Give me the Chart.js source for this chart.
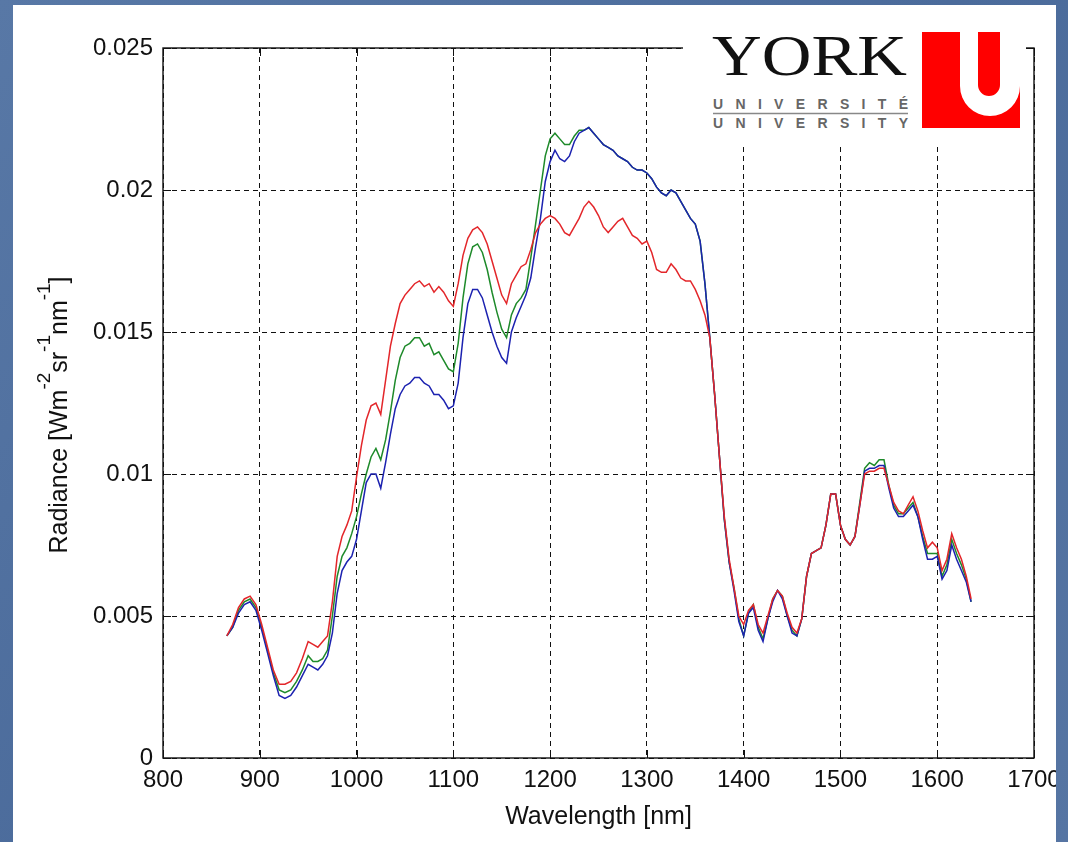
<!DOCTYPE html>
<html>
<head>
<meta charset="utf-8">
<script src="https://cdn.jsdelivr.net/npm/chart.js@4.4.1/dist/chart.umd.min.js"></script>
<style>
  html, body { margin: 0; padding: 0; }
  body {
    width: 1068px; height: 842px; overflow: hidden; position: relative;
    background: linear-gradient(135deg, #5878a6 0%, #4b6b9b 50%, #5675a3 100%);
  }
  #panel {
    position: absolute; left: 13px; top: 5px; width: 1043px; height: 837px;
    background: #fff; overflow: hidden;
  }
  #chart { position: absolute; left: 0; top: 0; }
  #logo { position: absolute; left: 683px; top: 5px; }
</style>
</head>
<body>
<div id="panel"><canvas id="chart" width="1110" height="837"></canvas></div>
<svg id="logo" width="343" height="141" xmlns="http://www.w3.org/2000/svg">
  <rect x="0" y="0" width="343" height="141" fill="#fff"/>
  <text x="29" y="70" font-family="Liberation Serif" font-size="56" fill="#111"
        textLength="195" lengthAdjust="spacingAndGlyphs">YORK</text>
  <text x="30" y="104" font-family="Liberation Sans" font-size="14" font-weight="bold" fill="#666"
        textLength="195" lengthAdjust="spacing">UNIVERSITÉ</text>
  <line x1="30" y1="108.5" x2="225" y2="108.5" stroke="#888" stroke-width="1.5"/>
  <text x="30" y="123" font-family="Liberation Sans" font-size="14" font-weight="bold" fill="#666"
        textLength="195" lengthAdjust="spacing">UNIVERSITY</text>
  <rect x="239" y="27" width="98" height="96" fill="#ff0000"/>
  <path d="M277,27 V81 A30,30 0 0 0 337,81 V27 H317 V80 A11,11 0 0 1 295,80 V27 Z" fill="#fff"/>
</svg>
<script>
// DATA
const wavelengths = [
  866, 872, 878, 884, 890, 896, 902, 908, 914, 920, 926, 932, 938, 944, 950, 955, 960, 965, 970, 975,
  980, 985, 990, 995, 1000, 1005, 1010, 1015, 1020, 1025, 1030, 1035, 1040, 1045, 1050, 1055, 1060, 1065, 1070, 1075,
  1080, 1085, 1090, 1095, 1100, 1105, 1110, 1115, 1120, 1125, 1130, 1135, 1140, 1145, 1150, 1155, 1160, 1165, 1170, 1175,
  1180, 1185, 1190, 1195, 1200, 1205, 1210, 1215, 1220, 1225, 1230, 1235, 1240, 1245, 1250, 1255, 1260, 1265, 1270, 1275,
  1280, 1285, 1290, 1295, 1300, 1305, 1310, 1315, 1320, 1325, 1330, 1335, 1340, 1345, 1350, 1355, 1360, 1365, 1370, 1375,
  1380, 1385, 1390, 1395, 1400, 1405, 1410, 1415, 1420, 1425, 1430, 1435, 1440, 1445, 1450, 1455, 1460, 1465, 1470, 1475,
  1480, 1485, 1490, 1495, 1500, 1505, 1510, 1515, 1520, 1525, 1530, 1535, 1540, 1545, 1550, 1555, 1560, 1565, 1570, 1575,
  1580, 1585, 1590, 1595, 1600, 1605, 1610, 1615, 1620, 1625, 1630, 1635
];

const radianceRed = [
  0.0043, 0.0047, 0.0053, 0.0056, 0.0057, 0.0054, 0.0047, 0.0039, 0.0031, 0.0026, 0.0026, 0.0027, 0.0030, 0.0035, 0.0041, 0.0040, 0.0039, 0.0041, 0.0043, 0.0055,
  0.0071, 0.0078, 0.0082, 0.0087, 0.0099, 0.0110, 0.0119, 0.0124, 0.0125, 0.0121, 0.0133, 0.0145, 0.0153, 0.0160, 0.0163, 0.0165, 0.0167, 0.0168, 0.0166, 0.0167,
  0.0164, 0.0166, 0.0164, 0.0161, 0.0159, 0.0167, 0.0177, 0.0183, 0.0186, 0.0187, 0.0185, 0.0181, 0.0175, 0.0169, 0.0163, 0.0160, 0.0167, 0.0170, 0.0173, 0.0174,
  0.0179, 0.0185, 0.0188, 0.0190, 0.0191, 0.0190, 0.0188, 0.0185, 0.0184, 0.0187, 0.0190, 0.0194, 0.0196, 0.0194, 0.0191, 0.0187, 0.0185, 0.0187, 0.0189, 0.0190,
  0.0187, 0.0184, 0.0183, 0.0181, 0.0182, 0.0178, 0.0172, 0.0171, 0.0171, 0.0174, 0.0172, 0.0169, 0.0168, 0.0168, 0.0165, 0.0161, 0.0156, 0.0148, 0.0128, 0.0106,
  0.0085, 0.0070, 0.0060, 0.0050, 0.0047, 0.0052, 0.0054, 0.0047, 0.0044, 0.0050, 0.0056, 0.0059, 0.0057, 0.0051, 0.0046, 0.0044, 0.0049, 0.0064, 0.0072, 0.0073,
  0.0074, 0.0082, 0.0093, 0.0093, 0.0082, 0.0077, 0.0075, 0.0078, 0.0089, 0.0100, 0.0101, 0.0101, 0.0102, 0.0102, 0.0096, 0.0090, 0.0087, 0.0086, 0.0089, 0.0092,
  0.0087, 0.0080, 0.0074, 0.0076, 0.0074, 0.0066, 0.0070, 0.0079, 0.0074, 0.0070, 0.0064, 0.0056
];

const radianceGreen = [
  0.0043, 0.0046, 0.0052, 0.0055, 0.0056, 0.0053, 0.0046, 0.0038, 0.0030, 0.0024, 0.0023, 0.0024, 0.0027, 0.0031, 0.0036, 0.0034, 0.0034, 0.0035, 0.0038, 0.0050,
  0.0064, 0.0071, 0.0074, 0.0079, 0.0085, 0.0093, 0.0100, 0.0106, 0.0109, 0.0105, 0.0112, 0.0122, 0.0133, 0.0141, 0.0145, 0.0146, 0.0148, 0.0148, 0.0145, 0.0146,
  0.0142, 0.0143, 0.0140, 0.0137, 0.0136, 0.0146, 0.0162, 0.0174, 0.0180, 0.0181, 0.0178, 0.0172, 0.0164, 0.0157, 0.0151, 0.0148, 0.0156, 0.0160, 0.0162, 0.0165,
  0.0176, 0.0188, 0.0200, 0.0212, 0.0218, 0.0220, 0.0218, 0.0216, 0.0216, 0.0219, 0.0221, 0.0221, 0.0222, 0.0220, 0.0218, 0.0216, 0.0215, 0.0214, 0.0212, 0.0211,
  0.0210, 0.0208, 0.0207, 0.0207, 0.0206, 0.0204, 0.0201, 0.0199, 0.0198, 0.0200, 0.0199, 0.0196, 0.0193, 0.0190, 0.0188, 0.0182, 0.0167, 0.0148, 0.0128, 0.0106,
  0.0084, 0.0069, 0.0060, 0.0049, 0.0043, 0.0051, 0.0054, 0.0046, 0.0042, 0.0049, 0.0056, 0.0059, 0.0057, 0.0050, 0.0045, 0.0043, 0.0049, 0.0064, 0.0072, 0.0073,
  0.0074, 0.0082, 0.0093, 0.0093, 0.0082, 0.0077, 0.0075, 0.0078, 0.0090, 0.0102, 0.0104, 0.0103, 0.0105, 0.0105, 0.0096, 0.0089, 0.0086, 0.0086, 0.0088, 0.0090,
  0.0085, 0.0078, 0.0072, 0.0072, 0.0072, 0.0064, 0.0068, 0.0077, 0.0072, 0.0068, 0.0063, 0.0055
];

const radianceBlue = [
  0.0043, 0.0046, 0.0051, 0.0054, 0.0055, 0.0052, 0.0045, 0.0037, 0.0029, 0.0022, 0.0021, 0.0022, 0.0025, 0.0029, 0.0033, 0.0032, 0.0031, 0.0033, 0.0036, 0.0044,
  0.0058, 0.0066, 0.0069, 0.0071, 0.0077, 0.0087, 0.0097, 0.0100, 0.0100, 0.0095, 0.0104, 0.0114, 0.0123, 0.0128, 0.0131, 0.0132, 0.0134, 0.0134, 0.0132, 0.0131,
  0.0128, 0.0128, 0.0126, 0.0123, 0.0124, 0.0132, 0.0148, 0.0160, 0.0165, 0.0165, 0.0162, 0.0156, 0.0150, 0.0145, 0.0141, 0.0139, 0.0150, 0.0155, 0.0159, 0.0163,
  0.0169, 0.0180, 0.0190, 0.0203, 0.0210, 0.0214, 0.0211, 0.0210, 0.0212, 0.0217, 0.0220, 0.0221, 0.0222, 0.0220, 0.0218, 0.0216, 0.0215, 0.0214, 0.0212, 0.0211,
  0.0210, 0.0208, 0.0207, 0.0207, 0.0206, 0.0204, 0.0201, 0.0199, 0.0198, 0.0200, 0.0199, 0.0196, 0.0193, 0.0190, 0.0188, 0.0182, 0.0167, 0.0148, 0.0128, 0.0106,
  0.0084, 0.0069, 0.0059, 0.0048, 0.0043, 0.0051, 0.0053, 0.0045, 0.0041, 0.0049, 0.0055, 0.0059, 0.0056, 0.0050, 0.0044, 0.0043, 0.0049, 0.0064, 0.0072, 0.0073,
  0.0074, 0.0082, 0.0093, 0.0093, 0.0082, 0.0077, 0.0075, 0.0078, 0.0089, 0.0101, 0.0102, 0.0102, 0.0103, 0.0103, 0.0095, 0.0088, 0.0085, 0.0085, 0.0087, 0.0089,
  0.0085, 0.0077, 0.0070, 0.0070, 0.0071, 0.0063, 0.0066, 0.0075, 0.0070, 0.0066, 0.0062, 0.0055
];

const xTickLabels = ["800", "900", "1000", "1100", "1200", "1300", "1400", "1500", "1600", "1700"];
const yTickLabels = ["0", "0.005", "0.01", "0.015", "0.02", "0.025"];
const xTitle = "Wavelength [nm]";
// y title pieces: [text, superscript?]
const yTitleParts = [["Radiance [Wm", false], ["-2", true], ["sr", false], ["-1", true], ["nm", false], ["-1", true], ["]", false]];

// HELPERS
function toPoints(values) {
  return wavelengths.map((w, i) => ({ x: w, y: values[i] }));
}

const FONT = "Liberation Sans, Arial, sans-serif";

// frame, inside ticks and axis titles (matlab style)
const matlabFrame = {
  id: "matlabFrame",
  afterDraw(chart) {
    const ctx = chart.ctx;
    const a = chart.chartArea;
    const xs = chart.scales.x;
    const ys = chart.scales.y;
    ctx.save();
    ctx.strokeStyle = "#111";
    ctx.lineWidth = 1.4;
    ctx.setLineDash([]);
    ctx.strokeRect(a.left, a.top, a.right - a.left, a.bottom - a.top);

    ctx.lineWidth = 1;
    const len = 8;
    ctx.beginPath();
    xs.ticks.forEach((t) => {
      const px = Math.round(xs.getPixelForValue(t.value)) + 0.5;
      ctx.moveTo(px, a.bottom); ctx.lineTo(px, a.bottom - len);
      ctx.moveTo(px, a.top); ctx.lineTo(px, a.top + len);
    });
    ys.ticks.forEach((t) => {
      const py = Math.round(ys.getPixelForValue(t.value)) + 0.5;
      ctx.moveTo(a.left, py); ctx.lineTo(a.left + len, py);
      ctx.moveTo(a.right, py); ctx.lineTo(a.right - len, py);
    });
    ctx.stroke();

    // x title
    ctx.fillStyle = "#111";
    ctx.font = "25px " + FONT;
    ctx.textAlign = "center";
    ctx.textBaseline = "middle";
    ctx.fillText(xTitle, (a.left + a.right) / 2, 812);

    // y title, rotated, with superscripts
    const mainFont = "25px " + FONT;
    const supFont = "19px " + FONT;
    let total = 0;
    yTitleParts.forEach(([txt, sup]) => {
      ctx.font = sup ? supFont : mainFont;
      total += ctx.measureText(txt).width;
    });
    ctx.translate(54, 410);
    ctx.rotate(-Math.PI / 2);
    ctx.textAlign = "left";
    ctx.textBaseline = "alphabetic";
    let cx = -total / 2;
    yTitleParts.forEach(([txt, sup]) => {
      ctx.font = sup ? supFont : mainFont;
      ctx.fillText(txt, cx, sup ? -17 : 0);
      cx += ctx.measureText(txt).width;
    });
    ctx.restore();
  },
};

// CHART
const ctx = document.getElementById("chart").getContext("2d");

const myChart = new Chart(ctx, {
  type: "line",
  data: {
    datasets: [
      { label: "red", data: toPoints(radianceRed), borderColor: "#e3262a" },
      { label: "blue", data: toPoints(radianceBlue), borderColor: "#1c22b0" },
      { label: "green", data: toPoints(radianceGreen), borderColor: "#1e8a2a" },
    ],
  },
  options: {
    responsive: false,
    animation: false,
    devicePixelRatio: 1,
    layout: { padding: { left: 0, top: 43, right: 89, bottom: 0 } },
    elements: {
      point: { radius: 0 },
      line: { borderWidth: 1.5, tension: 0, fill: false },
    },
    plugins: {
      legend: { display: false },
      tooltip: { enabled: false },
    },
    scales: {
      x: {
        type: "linear",
        min: 800,
        max: 1700,
        afterFit: (scale) => { scale.height = 84; },
        afterBuildTicks: (scale) => {
          scale.ticks = xTickLabels.map((l) => ({ value: Number(l) }));
        },
        ticks: {
          padding: 8,
          color: "#111",
          font: { family: FONT, size: 24 },
          maxRotation: 0,
          callback: (v, i) => xTickLabels[i],
        },
        grid: { color: "#111", lineWidth: 1, drawTicks: false },
        border: { display: false, dash: [5, 4] },
      },
      y: {
        type: "linear",
        min: 0,
        max: 0.025,
        afterFit: (scale) => { scale.width = 150; },
        afterBuildTicks: (scale) => {
          scale.ticks = yTickLabels.map((l) => ({ value: Number(l) }));
        },
        ticks: {
          padding: 10,
          color: "#111",
          font: { family: FONT, size: 24 },
          callback: (v, i) => yTickLabels[i],
        },
        grid: { color: "#111", lineWidth: 1, drawTicks: false },
        border: { display: false, dash: [5, 4] },
      },
    },
  },
  plugins: [matlabFrame],
});
</script>
</body>
</html>
